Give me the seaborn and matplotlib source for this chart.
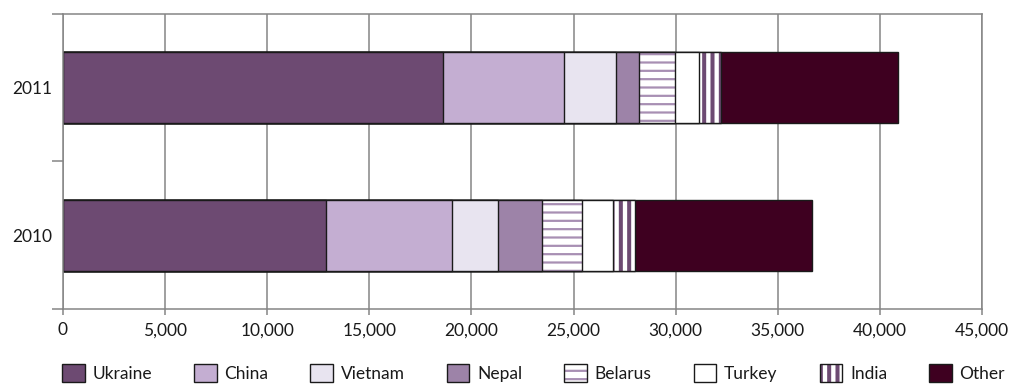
import numpy as np
import pandas as pd
import seaborn as sns
import matplotlib as mpl
import matplotlib.pyplot as plt
from matplotlib.patches import Patch
from matplotlib.colors import to_rgba
from matplotlib.ticker import FuncFormatter

# ---- data ----
years = ['2011', '2010']
countries = ['Ukraine', 'China', 'Vietnam', 'Nepal', 'Belarus', 'Turkey', 'India', 'Other']
values_2011 = [18625, 5925, 2515, 1145, 1760, 1190, 1065, 8650]
values_2010 = [12880, 6185, 2255, 2155, 1925, 1520, 1090, 8655]
x_ticks = [0, 5000, 10000, 15000, 20000, 25000, 30000, 35000, 40000, 45000]

# ---- styles ----
fill_colors = ['#6d4a72', '#c4aed2', '#e8e4f0', '#9d83a8', '#ffffff', '#ffffff', '#ffffff', '#3e0020']
hatch_patterns = [None, None, None, None, '--', None, '||', None]
hatch_colors = [None, None, None, None, '#a88fb3', None, '#6d4a72', None]
hatch_widths = [None, None, None, None, 1.6, None, 2.9, None]

sns.set_theme(style='white')
plt.rcParams['font.family'] = ['Lato', 'DejaVu Sans']
plt.rcParams['text.color'] = '#1a1a1a'

rows = []
for yr, vals in zip(years, [values_2011, values_2010]):
    for c, v in zip(countries, vals):
        rows.append({'year': yr, 'country': c, 'value': v})
df = pd.DataFrame(rows)
df['cum'] = df.groupby('year')['value'].cumsum()

fig = plt.figure(figsize=(10.09, 3.86), dpi=100)
ax = fig.add_axes([63 / 1009, 1 - 309 / 386, (982 - 63) / 1009, (309 - 14) / 386])

edge = '#1a1a1a'


def style_hatch(p, h, hc, hw):
    p.set_hatch(h)
    p._hatch_color = to_rgba(hc)
    if hasattr(p, 'set_hatch_linewidth'):
        p.set_hatch_linewidth(hw)
    else:
        p._hatch_linewidth = hw


for i in reversed(range(len(countries))):
    c = countries[i]
    sub = df[df['country'] == c]
    n0 = len(ax.patches)
    sns.barplot(data=sub, x='cum', y='year', order=years, orient='h',
                color=fill_colors[i], saturation=1, width=0.48, errorbar=None,
                edgecolor=edge, linewidth=1.0, ax=ax, zorder=2)
    if hatch_patterns[i]:
        for p in ax.patches[n0:]:
            style_hatch(p, hatch_patterns[i], hatch_colors[i], hatch_widths[i])

ax.set_xlim(0, 45000)
ax.set_ylim(1.5, -0.5)
ax.set_xticks(x_ticks)
ax.xaxis.set_major_formatter(FuncFormatter(lambda v, _: f'{int(v):,}'))
ax.set_xlabel('')
ax.set_ylabel('')

ax.xaxis.grid(True, color='#858585', linewidth=1.1, zorder=0)
ax.yaxis.grid(False)
ax.set_axisbelow(True)
for s in ax.spines.values():
    s.set_visible(True)
    s.set_color('#858585')
    s.set_linewidth(1.1)

ax.set_yticks([-0.5, 0.5, 1.5], minor=True)
ax.tick_params(axis='y', which='major', length=0, pad=8, labelsize=12.5, labelcolor='#1a1a1a')
ax.tick_params(axis='y', which='minor', length=8, width=1.1, color='#858585', left=True)
ax.tick_params(axis='x', which='major', length=4.5, width=1.1, color='#858585', bottom=True,
               pad=5, labelsize=12.5, labelcolor='#1a1a1a')

handles = []
for i, c in enumerate(countries):
    p = Patch(facecolor=fill_colors[i], edgecolor=edge, linewidth=1.0, label=c)
    handles.append(p)

leg = fig.legend(handles=handles, labels=countries, loc='center',
                 bbox_to_anchor=(533.5 / 1009, 1 - 373 / 386), ncol=8, frameon=False,
                 handlelength=1.3, handleheight=1.3, handletextpad=0.45,
                 columnspacing=2.42, fontsize=12.5, borderaxespad=0, borderpad=0)
for i, lh in enumerate(leg.legend_handles):
    if hatch_patterns[i]:
        style_hatch(lh, hatch_patterns[i], hatch_colors[i], hatch_widths[i])

fig.savefig('out.png', dpi=100)
